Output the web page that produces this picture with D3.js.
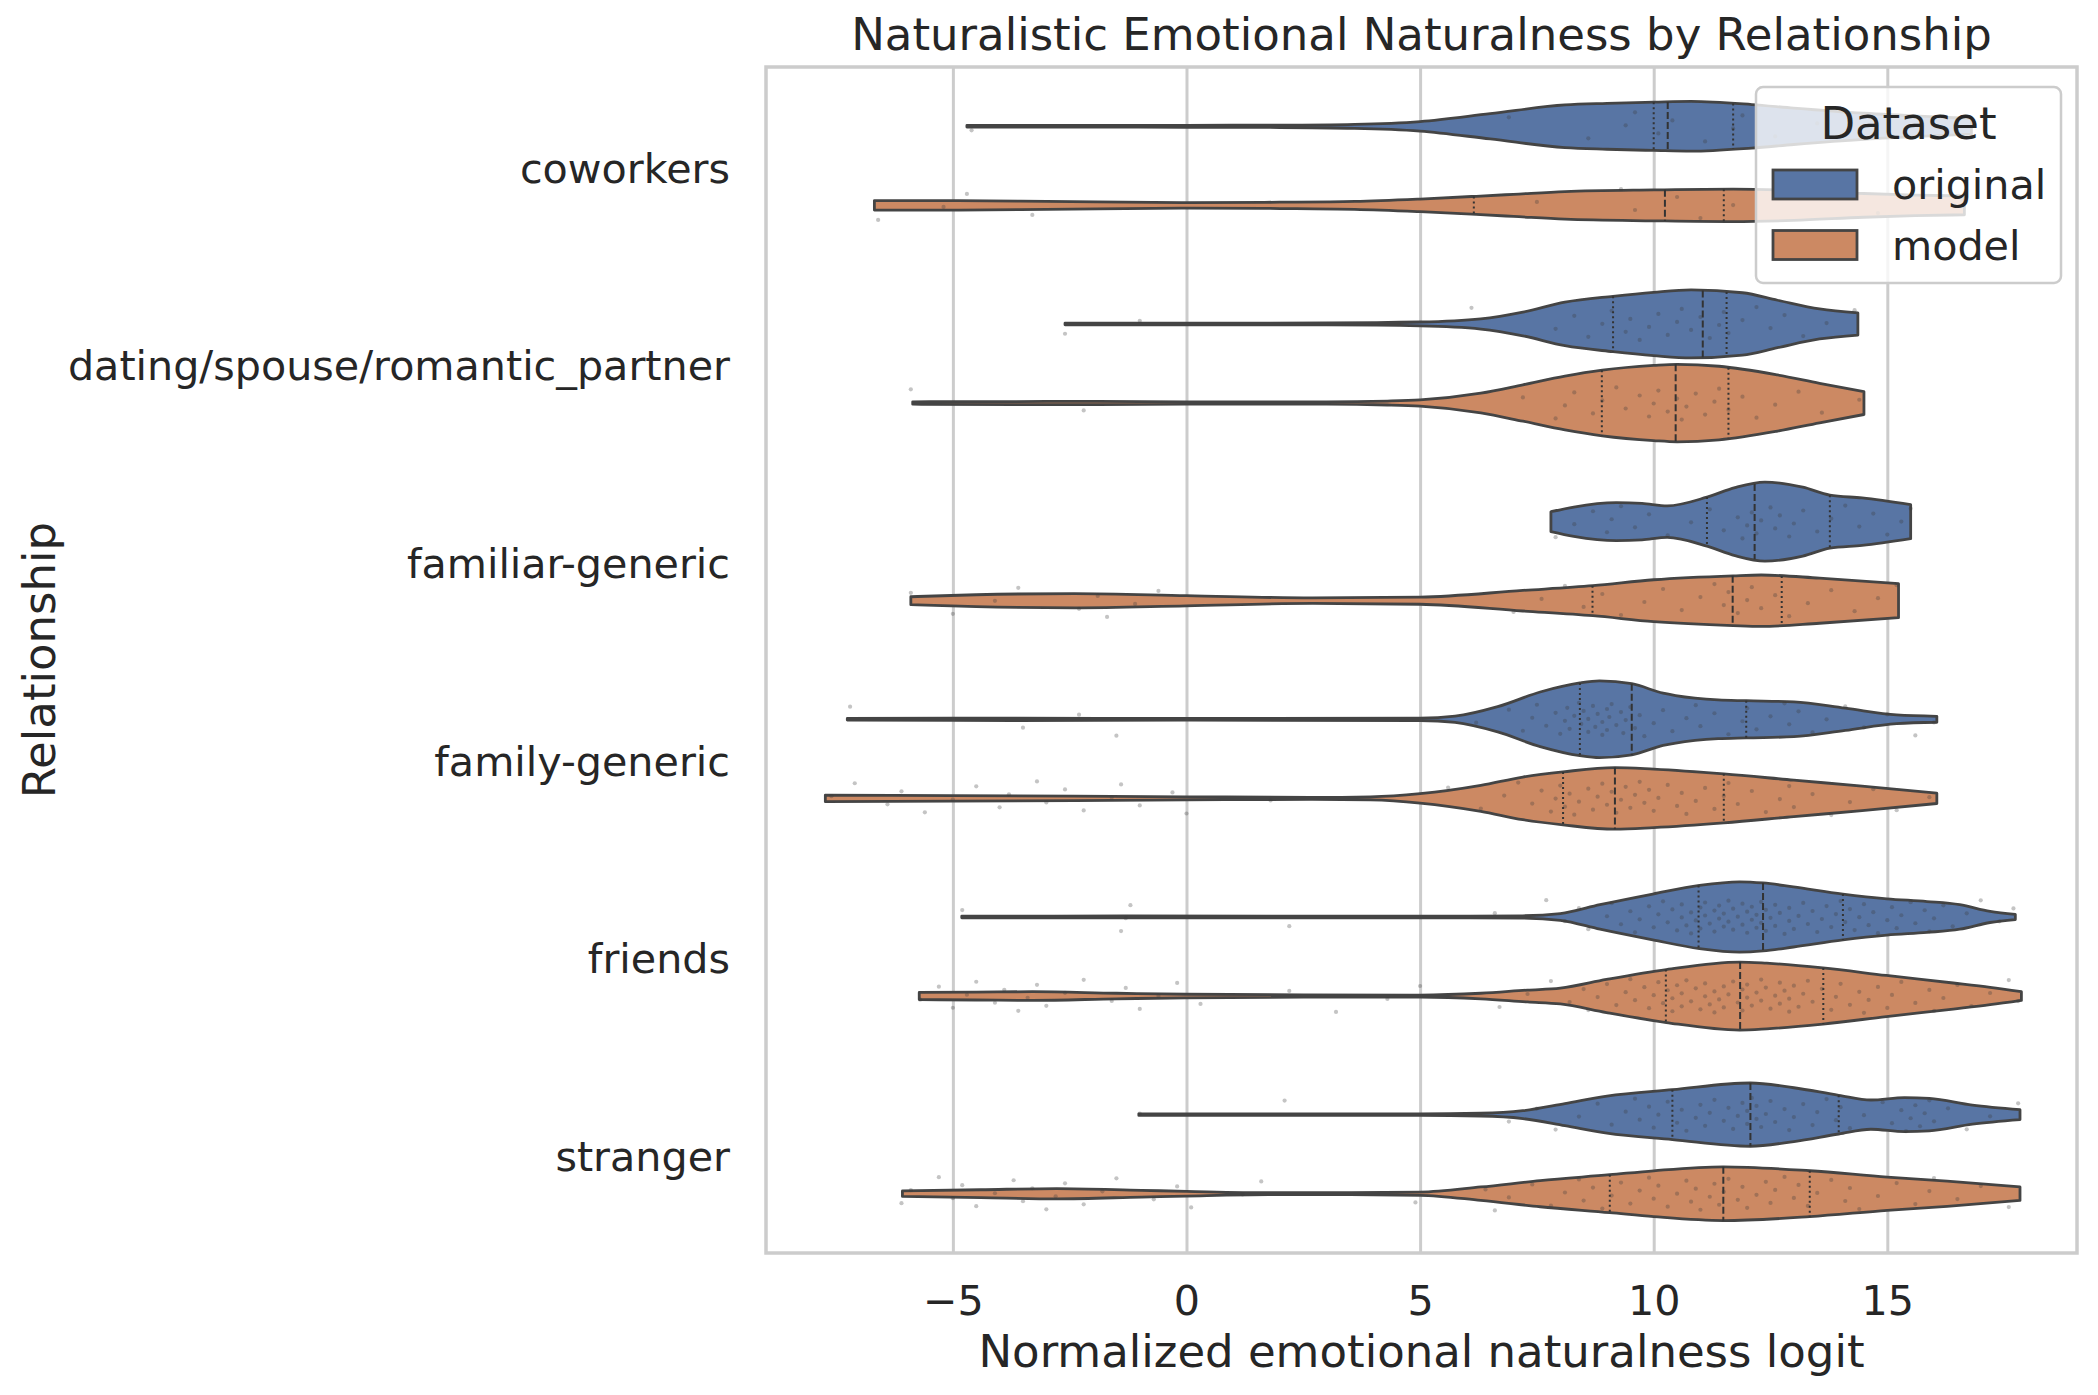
<!DOCTYPE html>
<html><head><meta charset="utf-8">
<script src="https://cdn.jsdelivr.net/npm/d3@7"></script>
<style>
body{margin:0;background:#fff}
svg{display:block}
text{font-family:"DejaVu Sans",sans-serif;fill:#262626}
</style>
</head><body>
<svg id="chart" width="2098" height="1395"></svg>
<script>
// ---------------- data ----------------
const categories = ["coworkers","dating/spouse/romantic_partner","familiar-generic","family-generic","friends","stranger"];
const datasets = ["original","model"];
const xTicks = [-5,0,5,10,15];

// density profiles [value, relative density] (cut at data range)
const densityOriginal = [
  [[-4.7,.02],[-2,.02],[0,.025],[2,.03],[3.6,.05],[5,.12],[6.5,.32],[8.1,.54],[9,.58],[10,.61],[10.8,.63],[12.1,.55],[13,.46],[14.5,.33],[15.8,.25],[16.8,.2]],
  [[-2.6,.02],[0,.02],[3,.025],[5,.05],[6.3,.13],[7.2,.3],[8.1,.55],[9.13,.7],[10,.8],[10.8,.86],[11.9,.79],[12.65,.6],[13.55,.38],[14.37,.28]],
  [[7.8,.25],[8.29,.37],[9.2,.48],[9.75,.46],[10.29,.4],[11.14,.62],[11.74,.86],[12.38,1.0],[13.19,.87],[13.77,.67],[14.46,.6],[15.5,.43]],
  [[-7.26,.02],[-3.7,.03],[0,.02],[5,.03],[5.75,.08],[6.66,.32],[7.57,.69],[8.42,.92],[8.84,.97],[9.53,.9],[10.2,.66],[10.47,.6],[11.38,.49],[11.98,.47],[13,.44],[14.1,.28],[15.2,.11],[16.06,.075]],
  [[-4.81,.02],[-1.3,.025],[5,.02],[7.2,.03],[8.0,.085],[8.85,.31],[9.98,.58],[10.98,.8],[11.84,.89],[12.34,.86],[12.99,.76],[14.05,.58],[14.99,.46],[15.85,.39],[16.55,.31],[17.2,.14],[17.74,.065]],
  [[-1.02,.02],[3,.02],[5,.02],[6.3,.035],[7.2,.1],[8.1,.28],[9.0,.47],[10.4,.63],[12.07,.8],[13.0,.68],[13.96,.49],[14.65,.37],[15.37,.43],[15.9,.41],[16.82,.24],[17.84,.125]]
];
const densityModel = [
  [[-6.68,.12],[-5,.12],[-3,.1],[0,.07],[2,.08],[3.6,.1],[5,.16],[6.2,.23],[7,.28],[8.1,.35],[10,.39],[11.7,.41],[13,.38],[14.5,.3],[15.6,.26],[16.65,.24]],
  [[-5.86,.03],[-3,.04],[-1.9,.04],[0,.03],[3,.03],[4.3,.05],[5,.08],[6.3,.25],[7.2,.46],[8.1,.68],[8.9,.83],[10,.95],[10.5,.98],[11.4,.93],[12.65,.71],[13.55,.5],[14.5,.29]],
  [[-5.9,.1],[-4.5,.15],[-2.4,.18],[0,.13],[2.7,.07],[5,.09],[7.2,.26],[8.7,.38],[10,.53],[11.7,.63],[12.3,.65],[13.55,.57],[15.24,.43]],
  [[-7.73,.083],[-5,.07],[0,.04],[2.7,.025],[3.94,.04],[5,.12],[6.3,.33],[7.2,.54],[8.06,.67],[9.17,.78],[10,.74],[11.5,.62],[13,.46],[14.46,.31],[16.06,.13]],
  [[-5.72,.09],[-4.5,.1],[-3.3,.11],[-1.5,.07],[0,.045],[2.5,.03],[5,.025],[6.3,.07],[7.3,.15],[8.0,.2],[8.99,.42],[10.27,.67],[11.84,.86],[12.42,.83],[13.62,.71],[14.98,.52],[16.41,.33],[17.2,.22],[17.87,.11]],
  [[-6.08,.07],[-4.4,.1],[-2.78,.13],[-0.96,.085],[0,.06],[1.76,.025],[3.5,.025],[5,.04],[6.3,.17],[7.57,.33],[9.06,.48],[10,.58],[11.49,.68],[13.34,.58],[15,.42],[16.28,.32],[17.84,.17]]
];

// quartiles [Q1, median, Q3]
const quartilesOriginal = [[10.0,10.3,11.7],[9.13,11.05,11.56],[11.14,12.16,13.77],[8.42,9.53,11.98],[10.96,12.34,14.05],[10.4,12.07,13.96]];
const quartilesModel = [[6.15,10.24,11.5],[8.89,10.47,11.6],[8.69,11.69,12.74],[8.06,9.17,11.5],[10.26,11.85,13.63],[9.06,11.49,13.34]];

// strip points
const pointsOriginal = [
  [-4.6,6.9,8.6,9.4,9.6,10.1,10.4,11.1,11.7,11.9,12.6,13.5,15.0,16.5],
  [-2.6,-1.0,6.1,7.9,8.3,8.6,8.9,9.1,9.4,9.5,9.7,9.9,10.1,10.3,10.5,10.6,10.8,11.0,11.2,11.4,11.5,11.6,11.9,12.2,12.5,12.8,13.2,13.7,14.3],
  [7.9,8.3,8.7,9.0,9.1,9.3,9.6,9.9,10.3,10.8,11.2,11.5,11.8,11.9,12.0,12.1,12.2,12.3,12.5,12.6,12.7,12.9,13.0,13.2,13.5,13.8,14.1,14.4,14.7,15.0,15.3,15.5],
  [-7.2,-3.5,-2.3,-1.5,6.2,6.9,7.2,7.4,7.5,7.7,7.9,8.0,8.1,8.15,8.2,8.3,8.4,8.45,8.5,8.6,8.6,8.7,8.75,8.8,8.9,8.9,9.0,9.0,9.05,9.1,9.2,9.3,9.35,9.4,9.5,9.6,9.7,9.8,10.0,10.2,10.4,10.7,10.9,11.0,11.3,11.6,11.9,12.0,12.2,12.5,12.8,12.9,13.1,13.4,13.7,14.1,14.5,15.0,15.6,16.0],
  [-4.8,-1.4,-1.3,-1.2,2.2,6.6,7.7,8.1,8.4,8.6,9.0,9.1,9.3,9.5,9.6,9.7,9.9,10.0,10.1,10.2,10.3,10.4,10.5,10.6,10.6,10.7,10.8,10.8,10.9,11.0,11.0,11.1,11.1,11.2,11.3,11.3,11.4,11.4,11.5,11.5,11.6,11.6,11.7,11.7,11.8,11.9,11.9,12.0,12.0,12.1,12.1,12.2,12.2,12.3,12.3,12.4,12.4,12.5,12.6,12.6,12.7,12.8,12.9,12.9,13.0,13.1,13.2,13.3,13.4,13.5,13.6,13.7,13.8,13.9,14.0,14.1,14.2,14.3,14.4,14.5,14.6,14.7,14.8,15.0,15.1,15.2,15.3,15.5,15.6,15.8,15.9,16.0,16.2,16.4,16.7,17.0,17.4,17.7],
  [-1.0,2.1,6.9,7.5,7.9,8.4,8.8,9.1,9.4,9.6,9.7,9.9,10.0,10.1,10.3,10.5,10.6,10.7,10.9,11.0,11.1,11.2,11.3,11.5,11.6,11.7,11.8,11.9,12.0,12.0,12.1,12.2,12.2,12.3,12.4,12.5,12.6,12.8,12.9,13.0,13.2,13.4,13.5,13.7,13.9,14.0,14.2,14.5,14.9,15.1,15.3,15.4,15.5,15.6,15.7,15.8,15.9,16.0,16.3,16.7,17.2,17.8]
];
const pointsModel = [
  [-6.6,-5.2,-4.7,-3.3,7.5,9.3,9.6,10.5,11.0,11.7,13.2,14.8,16.6],
  [-5.9,-2.2,7.2,7.9,8.1,8.3,8.7,8.9,9.2,9.4,9.7,9.9,10.0,10.1,10.3,10.5,10.6,10.7,10.9,11.1,11.3,11.4,11.6,11.9,12.2,12.6,13.1,13.6,14.4],
  [-5.9,-5.0,-4.1,-3.6,-2.3,-1.9,-1.7,-1.1,-0.6,7.0,7.6,8.1,8.5,8.9,9.3,9.8,10.2,10.6,11.0,11.3,11.5,11.6,11.8,12.0,12.1,12.3,12.6,12.9,13.3,13.8,14.3,14.8,15.2],
  [-7.6,-7.1,-6.4,-6.1,-5.6,-5.0,-4.5,-4.0,-3.8,-3.2,-3.0,-2.6,-2.2,-1.6,-1.4,-1.0,-0.3,0.0,1.8,5.6,6.3,6.8,7.1,7.4,7.6,7.8,7.9,8.0,8.1,8.2,8.3,8.4,8.6,8.7,8.8,8.9,9.0,9.1,9.2,9.3,9.4,9.5,9.6,9.7,9.8,9.9,10.0,10.1,10.3,10.5,10.6,10.7,10.9,11.1,11.3,11.5,11.6,11.8,12.1,12.4,12.7,12.9,13.0,13.4,13.8,14.2,14.7,15.2,15.9],
  [-5.7,-5.3,-5.0,-4.7,-4.5,-4.1,-3.9,-3.6,-3.4,-3.2,-3.0,-2.6,-2.2,-1.6,-1.3,-1.0,-0.6,-0.2,0.3,2.2,3.2,4.3,5.0,6.7,7.3,7.8,8.2,8.5,8.6,8.8,9.0,9.2,9.4,9.5,9.6,9.8,9.9,10.0,10.1,10.2,10.3,10.4,10.4,10.5,10.6,10.6,10.7,10.8,10.9,11.0,11.1,11.1,11.2,11.3,11.3,11.4,11.5,11.5,11.6,11.7,11.8,11.9,11.9,12.0,12.0,12.1,12.2,12.3,12.3,12.4,12.5,12.6,12.7,12.7,12.8,12.9,12.9,13.0,13.1,13.2,13.3,13.4,13.6,13.8,13.9,14.0,14.2,14.4,14.5,14.6,14.8,15.0,15.1,15.3,15.6,15.9,16.0,16.2,16.5,16.8,17.2,17.6,17.8],
  [-6.1,-5.9,-5.3,-5.0,-4.8,-4.5,-4.1,-3.7,-3.5,-3.3,-3.0,-2.8,-2.6,-2.2,-1.8,-1.5,-0.7,-0.2,0.1,1.2,1.6,4.9,6.4,6.6,6.9,7.4,7.8,8.1,8.4,8.5,8.7,8.9,9.1,9.3,9.5,9.7,9.9,10.0,10.1,10.3,10.5,10.7,10.8,10.9,11.0,11.2,11.3,11.4,11.5,11.6,11.8,11.9,12.0,12.2,12.4,12.5,12.6,12.8,13.0,13.1,13.3,13.5,13.8,14.1,14.2,14.4,14.8,15.2,15.6,15.9,16.0,16.5,17.0,17.6]
];

// ---------------- layout ----------------
const W = 2098, H = 1395;
const M = {left: 766, right: 2077, top: 67, bottom: 1253};
const fill = {original: "#5875A4", model: "#CC8963"};
const LINE = "#444444";

const svg = d3.select("#chart");
const x = d3.scaleLinear().domain([-9.0, 19.06]).range([M.left, M.right]);
const y = d3.scaleBand().domain(categories).range([M.top, M.bottom]).paddingInner(0).paddingOuter(0);
const bw = y.bandwidth();
const hue = d3.scaleBand().domain(datasets).range([-0.4*bw, 0.4*bw]);
const wScale = d3.scaleLinear().domain([0,1]).range([0, 0.2*bw]);

// grid
svg.append("g").attr("transform",`translate(0,${M.bottom})`)
  .call(d3.axisBottom(x).tickValues(xTicks).tickSize(-(M.bottom-M.top)).tickFormat(""))
  .call(g=>g.select(".domain").remove())
  .call(g=>g.selectAll("line").attr("stroke","#cccccc").attr("stroke-width",3));

// frame
svg.append("rect").attr("x",M.left).attr("y",M.top).attr("width",M.right-M.left).attr("height",M.bottom-M.top)
  .attr("fill","none").attr("stroke","#cccccc").attr("stroke-width",3.5);

function densAt(profile, v){
  for(let i=0;i<profile.length-1;i++){
    const a=profile[i], b=profile[i+1];
    if(v>=a[0] && v<=b[0]){ const t=(v-a[0])/(b[0]-a[0]); return a[1]+(b[1]-a[1])*t; }
  }
  return 0;
}

const groups = [
  {name:"original", dens: densityOriginal, q: quartilesOriginal, pts: pointsOriginal},
  {name:"model", dens: densityModel, q: quartilesModel, pts: pointsModel}
];

const gV = svg.append("g");
const gP = svg.append("g");
categories.forEach((cat, ci)=>{
  groups.forEach((grp, gi)=>{
    const cy = y(cat) + bw/2 + hue(grp.name) + hue.bandwidth()/2;
    const prof = grp.dens[ci];
    const area = d3.area()
      .x(d=>x(d[0]))
      .y0(d=>cy - Math.max(wScale(d[1]), 0.6))
      .y1(d=>cy + Math.max(wScale(d[1]), 0.6))
      .curve(d3.curveMonotoneX);
    gV.append("path").attr("d", area(prof))
      .attr("fill", fill[grp.name]).attr("stroke", LINE).attr("stroke-width", 2.8)
      .attr("stroke-linejoin","round");
    grp.q[ci].forEach((qv, qi)=>{
      const hw = wScale(densAt(prof, qv));
      gV.append("line").attr("x1",x(qv)).attr("x2",x(qv)).attr("y1",cy-hw).attr("y2",cy+hw)
        .attr("stroke", "#333").attr("stroke-width", 2)
        .attr("stroke-dasharray", qi===1 ? "7,3" : "2,3");
    });
    grp.pts[ci].forEach((v, i)=>{
      const j = (((i+1)*0.6180339887 + gi*0.31 + ci*0.17) % 1 - 0.5) * 2 * 17;
      gP.append("circle").attr("cx", x(v)).attr("cy", cy + j).attr("r", 2.1)
        .attr("fill","#3a3a3a").attr("fill-opacity",0.3);
    });
  });
});

// x axis labels
svg.append("g").attr("transform",`translate(0,${M.bottom})`)
  .call(d3.axisBottom(x).tickValues(xTicks).tickSize(0).tickPadding(0))
  .call(g=>g.select(".domain").remove())
  .call(g=>g.selectAll("text").attr("y", 62).attr("dy",null).attr("font-size",41.25)
      .style("font-family","DejaVu Sans").attr("fill","#262626"));

// y axis labels
svg.append("g").attr("transform",`translate(${M.left},0)`)
  .call(d3.axisLeft(y).tickSize(0).tickPadding(36))
  .call(g=>g.select(".domain").remove())
  .call(g=>g.selectAll("text").attr("dy","0.41em").attr("font-size",41.25)
      .style("font-family","DejaVu Sans").attr("fill","#262626"));

// titles
svg.append("text").attr("x",(M.left+M.right)/2).attr("y",50).attr("text-anchor","middle")
  .attr("font-size",45).text("Naturalistic Emotional Naturalness by Relationship");
svg.append("text").attr("x",(M.left+M.right)/2).attr("y",1367).attr("text-anchor","middle")
  .attr("font-size",45).text("Normalized emotional naturalness logit");
svg.append("text").attr("transform",`translate(55,${(M.top+M.bottom)/2}) rotate(-90)`).attr("text-anchor","middle")
  .attr("font-size",45).text("Relationship");

// legend
const lg = svg.append("g");
lg.append("rect").attr("x",1756).attr("y",87).attr("width",305).attr("height",196).attr("rx",7)
  .attr("fill","#ffffff").attr("fill-opacity",0.8).attr("stroke","#cccccc").attr("stroke-width",2.5);
lg.append("text").attr("x",1908.5).attr("y",139).attr("text-anchor","middle").attr("font-size",45).text("Dataset");
datasets.forEach((d,i)=>{
  const yy = 170 + i*60.5;
  lg.append("rect").attr("x",1773).attr("y",yy).attr("width",84).attr("height",29)
    .attr("fill",fill[d]).attr("stroke",LINE).attr("stroke-width",2.8);
  lg.append("text").attr("x",1892).attr("y",yy+29).attr("font-size",41.25).text(d);
});
</script>
</body></html>
